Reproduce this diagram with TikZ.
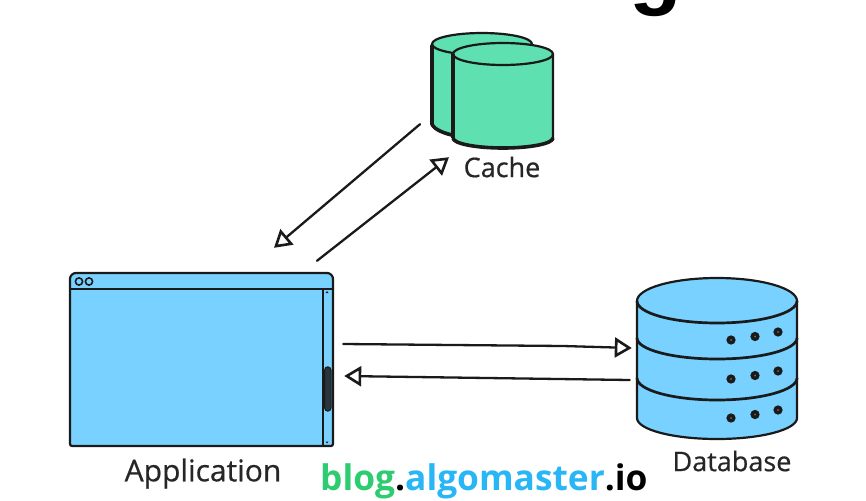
\documentclass[tikz,border=0pt]{standalone}
\usepackage{fontspec}
\usetikzlibrary{arrows.meta}
\setmainfont{Open Sans}
\newfontfamily\titlefont{Liberation Sans}
\newfontfamily\brandfont{Open Sans}
\newfontfamily\handfont[FakeBold=0.6]{Open Sans}
\definecolor{appblue}{HTML}{79D1FF}
\definecolor{cachegreen}{HTML}{5EE0B0}
\definecolor{inkdark}{HTML}{1A1A1A}
\definecolor{brandgreen}{HTML}{2ECC71}
\definecolor{brandblue}{HTML}{29B6F6}
\tikzset{
  ink/.style={draw=inkdark,line width=2.2pt,line join=round},
  link/.style={draw=inkdark,line width=2.3pt,line cap=round,-{Triangle[open,length=17pt,width=20pt,line width=2.6pt]}},
  handlabel/.style={inner sep=0pt,text=black!85,font=\handfont\fontsize{27}{30}\selectfont},
  holder/.style={inner sep=0pt,draw=none,fill=none},
  hole/.style={draw=inkdark,fill=black!55,line width=3.4pt}
}
\begin{document}
\begin{tikzpicture}[x=1pt,y=-1pt]
\useasboundingbox (0,0) rectangle (866,500);
\clip (0,0) rectangle (866,500);
% cropped title
\node[anchor=base west,inner sep=0pt,font=\titlefont\bfseries\fontsize{86}{90}\selectfont] (title) at (343,-1) {Caching};
% Anchor nodes
\node[holder,minimum width=263pt,minimum height=173pt] (app) at (201.5,359.5) {};
\node[holder,minimum width=121pt,minimum height=117pt] (cache) at (492.5,91.5) {};
\node[holder,minimum width=160pt,minimum height=161pt] (db) at (717,359.5) {};
% Application window
\draw[ink,fill=appblue] (70,279) arc[start angle=180,end angle=270,radius=6] -- (327,273) arc[start angle=270,end angle=360,radius=6] -- (333,444) arc[start angle=0,end angle=90,radius=2] -- (72,446) arc[start angle=90,end angle=180,radius=2] -- cycle;
\draw[ink] (70,289) -- (333,289);
\draw[ink,line width=1.8pt] (323,289) -- (323,446);
\draw[ink,line width=1.6pt] (79,281.5) circle[radius=3.6];
\draw[ink,line width=1.6pt] (89,281.5) circle[radius=3.6];
\draw[ink,fill=inkdark!85!appblue,line width=1pt] (324.6,370) arc[start angle=180,end angle=360,radius=3.2] -- (331,408) arc[start angle=0,end angle=180,radius=3.2] -- cycle;
\fill[inkdark] (325.5,293) -- (328.5,293) -- (327,291) -- cycle;
\fill[inkdark] (325.5,441.5) -- (328.5,441.5) -- (327,443.5) -- cycle;
% Cache cylinders
\draw[ink,fill=cachegreen] (432,44) arc[start angle=180,end angle=360,x radius=50,y radius=11] -- (532,130) -- (470,136) .. controls (450,136) and (432,130) .. (432,124) -- cycle;
\draw[ink] (432,44) arc[start angle=180,end angle=0,x radius=50,y radius=11];
\draw[ink,line width=3.6pt,line cap=round] (432,46) -- (432,124);
\draw[ink,line width=3.6pt] (432,124) .. controls (434,130) and (446,134) .. (456,136);
\draw[ink,fill=cachegreen] (453,54) arc[start angle=180,end angle=360,x radius=50,y radius=11] -- (553,138) arc[start angle=0,end angle=180,x radius=50,y radius=10] -- cycle;
\draw[ink] (453,54) arc[start angle=180,end angle=0,x radius=50,y radius=11];
\draw[ink,line width=3.6pt] (453,54) -- (453,138);
\draw[ink,line width=3.6pt] (553,138) arc[start angle=0,end angle=180,x radius=50,y radius=10];
% Database
\draw[ink,fill=appblue] (637,301) -- (637,418) arc[start angle=180,end angle=0,x radius=80,y radius=21] -- (797,301) arc[start angle=0,end angle=-180,x radius=80,y radius=23] -- cycle;
\draw[ink,line width=2.7pt] (637,301) arc[start angle=180,end angle=0,x radius=80,y radius=22];
\draw[ink,line width=2.7pt] (637,338) arc[start angle=180,end angle=0,x radius=80,y radius=21];
\draw[ink,line width=2.7pt] (637,378) arc[start angle=180,end angle=0,x radius=80,y radius=22];
\foreach \r/\dy in {a/0,b/39,c/78}{
  \draw[hole] (731,340+\dy) circle[radius=2.8];
  \draw[hole] (755,336.5+\dy) circle[radius=2.8];
  \draw[hole] (778,332+\dy) circle[radius=2.8];
}
% Connector ends
\coordinate (cacheOut) at ([shift={(-72.5,-26)}]cache.south);
\coordinate (cacheIn) at ([shift={(-43.5,7)}]cache.south);
\coordinate (appIn) at ([shift={(72.5,-25)}]app.north);
\coordinate (appOut) at ([shift={(115.5,-12)}]app.north);
\coordinate (appR) at ([shift={(10,-15.5)}]app.east);
\coordinate (appL) at ([shift={(11,16.5)}]app.east);
\coordinate (dbIn) at ([shift={(-5,-11.5)}]db.west);
\coordinate (dbOut) at ([shift={(-7,20.5)}]db.west);
% Connectors
\draw[link] (cacheOut) -- (appIn);
\draw[link] (appOut) -- (cacheIn);
\draw[link] (appR) -- (563,346) -- (dbIn);
\draw[link] (dbOut) -- (appL);
% Labels
\node[handlabel] (cachelabel) at (502,167) {Cache};
\node[handlabel,font=\handfont\fontsize{30}{32}\selectfont] (applabel) at (203,473.5) {Application};
\node[handlabel] (dblabel) at (732,461) {Database};
\node[inner sep=0pt,anchor=base west,font=\brandfont\bfseries\fontsize{35.3}{37}\selectfont] (brand) at (320,490) {\textcolor{brandgreen}{blog}.\textcolor{brandblue}{algomaster}.io};
\end{tikzpicture}
\end{document}
